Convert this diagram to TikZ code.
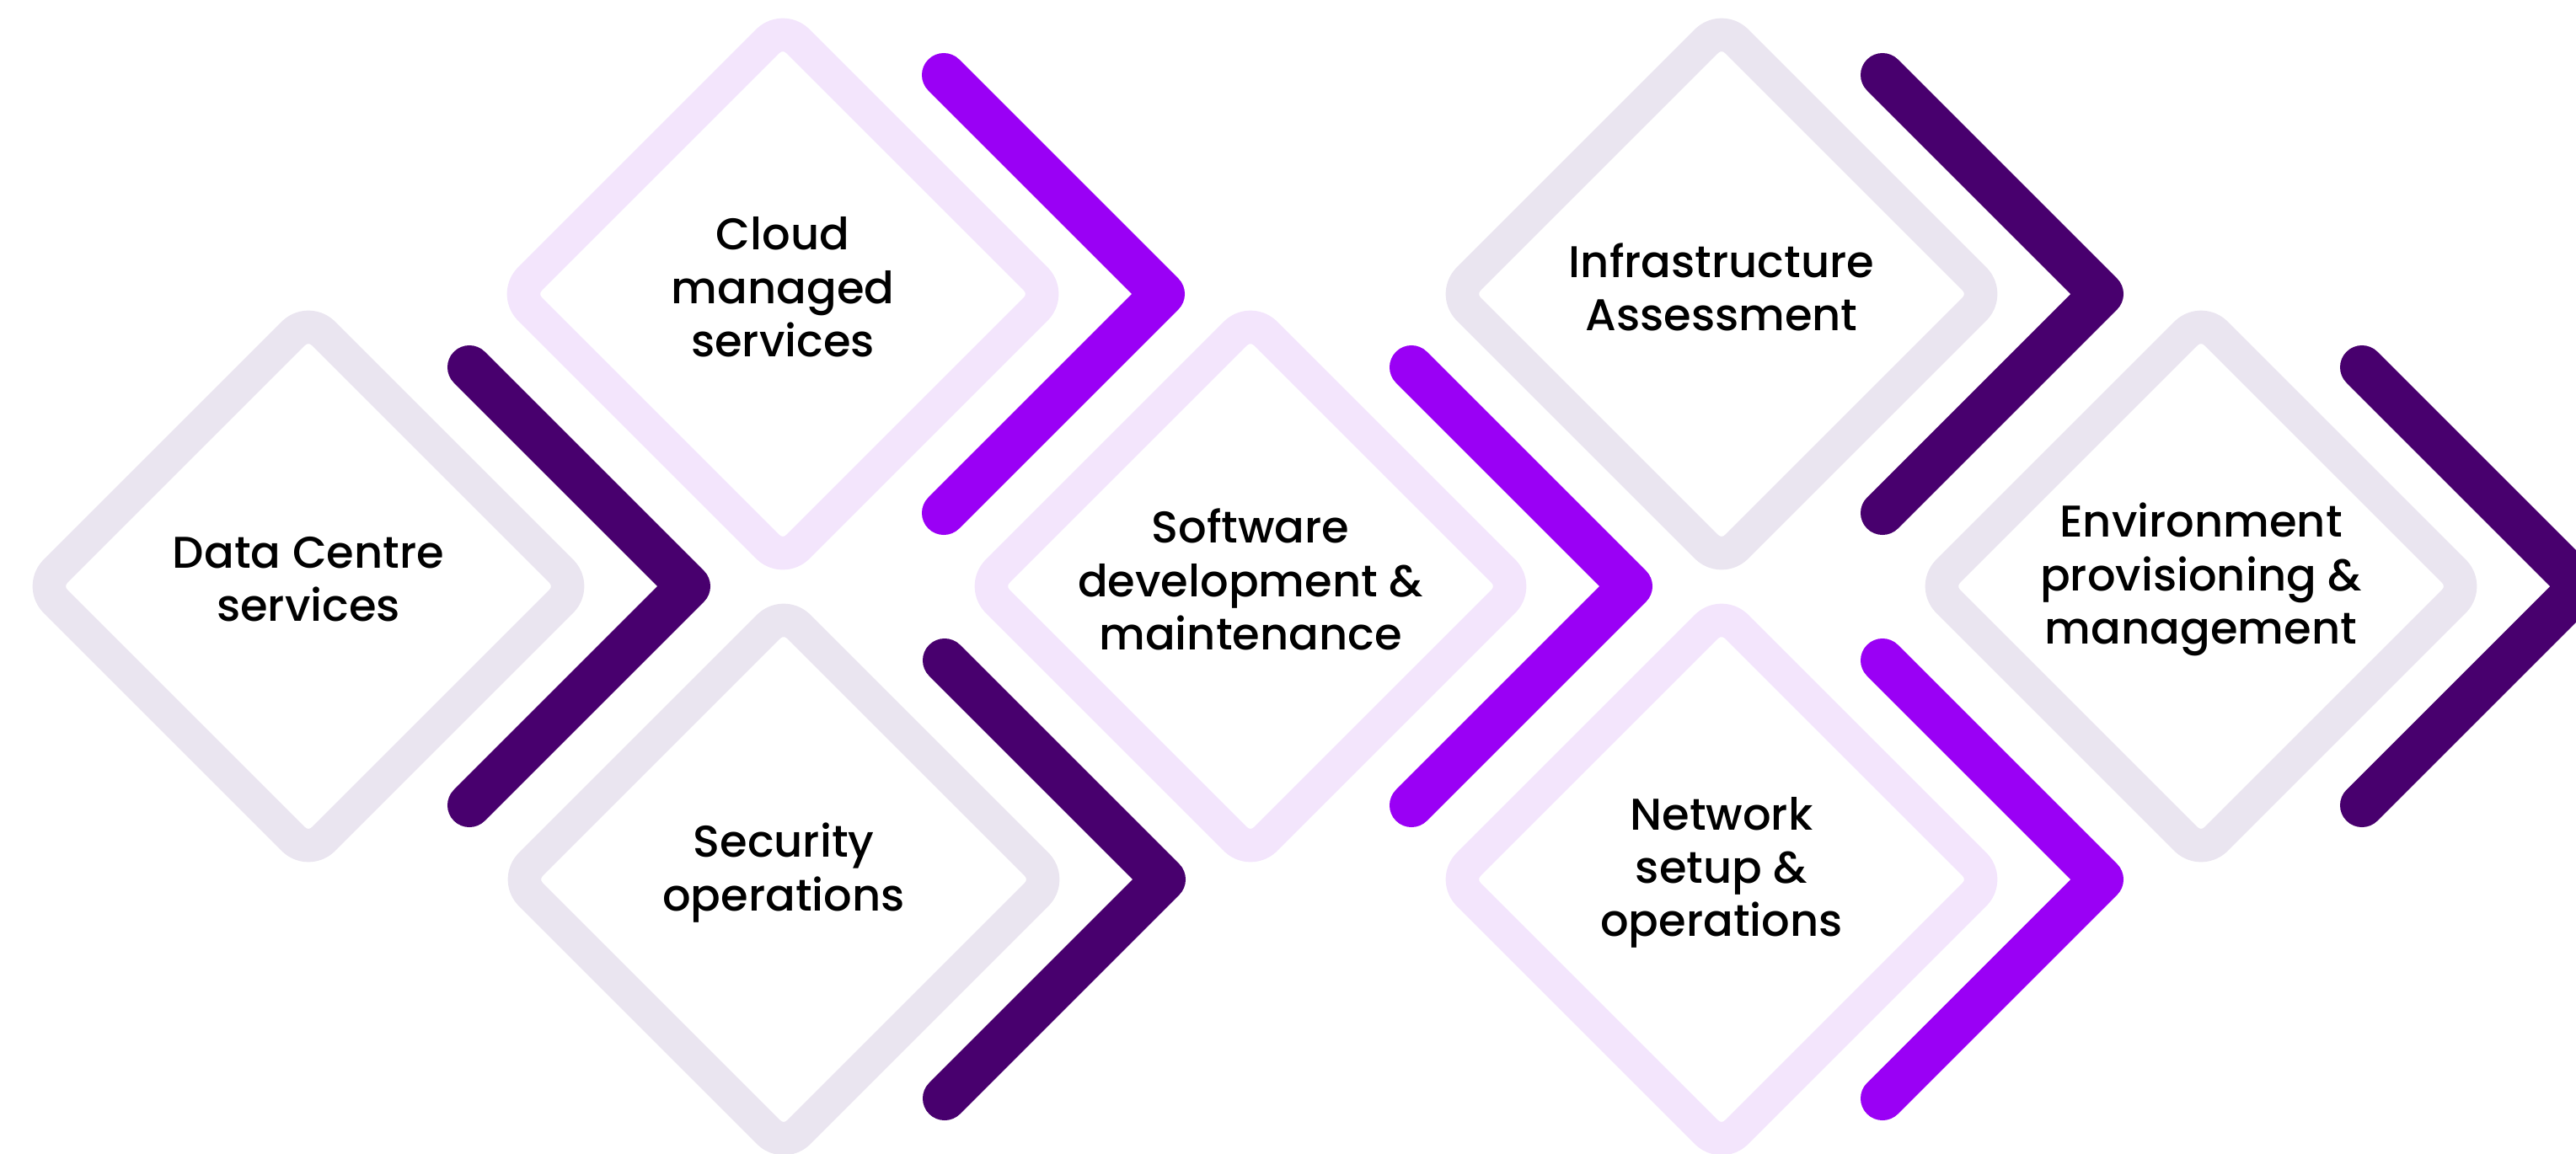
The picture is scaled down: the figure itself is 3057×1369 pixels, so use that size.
\documentclass[tikz,border=0pt]{standalone}
\usepackage{fontspec}
\setmainfont{Poppins Medium}
\usepackage{tikz}
\definecolor{tilegray}{HTML}{EAE5F0}
\definecolor{tilelilac}{HTML}{F3E5FC}
\definecolor{darkplum}{HTML}{48006E}
\definecolor{brightviolet}{HTML}{9A00F5}
\newcommand{\tile}[2]{\draw[tileline,#1,shift={(#2)}] (-159,-159) -- (0,-318) -- (318,0) -- (0,318) -- (-318,0) -- cycle;}
\newcommand{\chevron}[2]{\draw[chevline,#1,shift={(#2)}] (191,-260) -- (451,0) -- (191,260);}
\tikzset{
  tileline/.style={line width=0.395cm,rounded corners=0.25cm,line join=round},
  chevline/.style={line width=0.52cm,line cap=round,line join=round},
  caption/.style={align=center,text=black,inner sep=0pt,yshift=0.08cm,font=\fontsize{15}{18}\selectfont}
}

\begin{document}
\begin{tikzpicture}[x=0.01cm,y=-0.01cm]
  \clip (0,0) rectangle (3057,1369);
  % centres of the tiles
  \coordinate (c1) at (366,696);
  \coordinate (c2) at (929,349);
  \coordinate (c3) at (930,1044);
  \coordinate (c4) at (1484,696);
  \coordinate (c5) at (2043,349);
  \coordinate (c6) at (2043,1044);
  \coordinate (c7) at (2612,696);
  \node[caption] (d1) at (c1) {Data Centre\\services};
  \node[caption] (d2) at (c2) {Cloud\\managed\\services};
  \node[caption] (d3) at (c3) {Security\\operations};
  \node[caption] (d4) at (c4) {Software\\development \&\\maintenance};
  \node[caption] (d5) at (c5) {Infrastructure\\Assessment};
  \node[caption] (d6) at (c6) {Network\\setup \&\\operations};
  \node[caption] (d7) at (c7) {Environment\\provisioning \&\\management};
  % diamonds
  \tile{tilegray}{c1}
  \tile{tilelilac}{c2}
  \tile{tilegray}{c3}
  \tile{tilelilac}{c4}
  \tile{tilegray}{c5}
  \tile{tilelilac}{c6}
  \tile{tilegray}{c7}
  % arrows
  \chevron{darkplum}{c1}
  \chevron{brightviolet}{c2}
  \chevron{darkplum}{c3}
  \chevron{brightviolet}{c4}
  \chevron{darkplum}{c5}
  \chevron{brightviolet}{c6}
  \chevron{darkplum}{c7}
\end{tikzpicture}
\end{document}
